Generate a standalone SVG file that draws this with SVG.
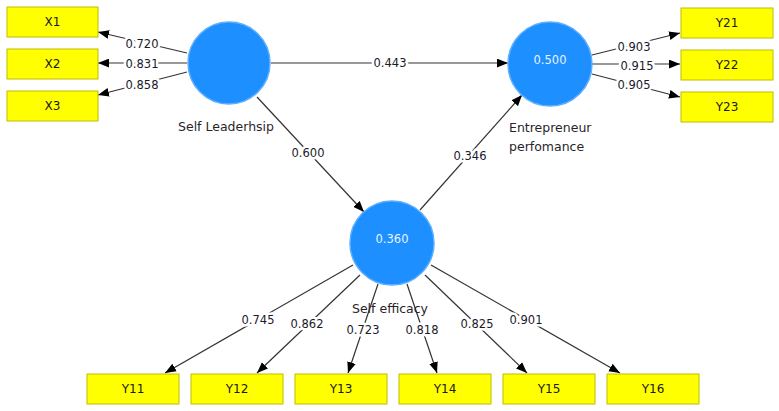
<svg xmlns="http://www.w3.org/2000/svg" width="779" height="411" viewBox="0 0 779 411">
<defs>
<marker id="ah" viewBox="0 0 10 8" refX="10" refY="4" markerWidth="11" markerHeight="9" markerUnits="userSpaceOnUse" orient="auto">
<path d="M0,0 L10,4 L0,8 z" fill="#000"/>
</marker>
</defs>
<style>
.box{fill:#FFFF00;stroke:#BDBD00;stroke-width:1}
.circ{fill:#1E8FFF;stroke:#5CAEFF;stroke-width:1.5}
.bt{font-family:"DejaVu Sans",sans-serif;font-size:12px;fill:#1a1a1a;text-anchor:middle}
.ct{font-family:"DejaVu Sans",sans-serif;font-size:11.5px;fill:#E6F3FF;text-anchor:middle}
.nm{font-family:"DejaVu Sans",sans-serif;font-size:12.5px;fill:#2a1f2a}
.lb{font-family:"DejaVu Sans",sans-serif;font-size:11.5px;fill:#1a1a2a;text-anchor:middle;stroke:#fff;stroke-width:5;paint-order:stroke;stroke-linejoin:round}
.ln{stroke:#333;stroke-width:1.2;fill:none;marker-end:url(#ah)}
</style>
<rect width="779" height="411" fill="#fff"/>
<g id="connectors">
<line class="ln" x1="187" y1="53" x2="98" y2="32"/>
<line class="ln" x1="187" y1="63" x2="98" y2="63"/>
<line class="ln" x1="187" y1="72" x2="98" y2="95"/>
<line class="ln" x1="271" y1="63" x2="508" y2="63"/>
<line class="ln" x1="257" y1="97" x2="364" y2="212"/>
<line class="ln" x1="420" y1="210" x2="522" y2="95"/>
<line class="ln" x1="592" y1="55" x2="680" y2="33"/>
<line class="ln" x1="592" y1="64" x2="680" y2="64"/>
<line class="ln" x1="592" y1="74" x2="680" y2="97"/>
<line class="ln" x1="353" y1="265" x2="165" y2="373"/>
<line class="ln" x1="360" y1="275" x2="257" y2="373"/>
<line class="ln" x1="378" y1="284" x2="348" y2="373"/>
<line class="ln" x1="407" y1="284" x2="437" y2="373"/>
<line class="ln" x1="425" y1="275" x2="527" y2="373"/>
<line class="ln" x1="431" y1="265" x2="620" y2="373"/>
<text class="lb" x="142" y="48">0.720</text>
<text class="lb" x="142" y="68">0.831</text>
<text class="lb" x="142" y="89">0.858</text>
<text class="lb" x="390" y="67">0.443</text>
<text class="lb" x="308" y="157">0.600</text>
<text class="lb" x="470" y="160">0.346</text>
<text class="lb" x="634" y="51">0.903</text>
<text class="lb" x="637" y="70">0.915</text>
<text class="lb" x="634" y="89">0.905</text>
<text class="lb" x="258" y="324">0.745</text>
<text class="lb" x="307" y="328">0.862</text>
<text class="lb" x="363" y="334">0.723</text>
<text class="lb" x="422" y="334">0.818</text>
<text class="lb" x="477" y="328">0.825</text>
<text class="lb" x="526" y="324">0.901</text>
</g>
<g id="X1"><rect class="box" x="7" y="7" width="91" height="30"/><text class="bt" x="52.5" y="26">X1</text></g>
<g id="X2"><rect class="box" x="7" y="49" width="91" height="30"/><text class="bt" x="52.5" y="68">X2</text></g>
<g id="X3"><rect class="box" x="7" y="91" width="91" height="30"/><text class="bt" x="52.5" y="110">X3</text></g>
<g id="Y21"><rect class="box" x="681" y="8" width="92" height="30"/><text class="bt" x="727" y="27">Y21</text></g>
<g id="Y22"><rect class="box" x="681" y="50" width="92" height="30"/><text class="bt" x="727" y="69">Y22</text></g>
<g id="Y23"><rect class="box" x="681" y="92" width="92" height="30"/><text class="bt" x="727" y="111">Y23</text></g>
<g id="Y11"><rect class="box" x="87" y="374" width="92" height="30"/><text class="bt" x="133" y="393">Y11</text></g>
<g id="Y12"><rect class="box" x="191" y="374" width="92" height="30"/><text class="bt" x="237" y="393">Y12</text></g>
<g id="Y13"><rect class="box" x="295" y="374" width="92" height="30"/><text class="bt" x="341" y="393">Y13</text></g>
<g id="Y14"><rect class="box" x="399" y="374" width="92" height="30"/><text class="bt" x="445" y="393">Y14</text></g>
<g id="Y15"><rect class="box" x="503" y="374" width="92" height="30"/><text class="bt" x="549" y="393">Y15</text></g>
<g id="Y16"><rect class="box" x="607" y="374" width="92" height="30"/><text class="bt" x="653" y="393">Y16</text></g>
<g id="SelfLeadership"><circle class="circ" cx="229" cy="63" r="41"/><text class="nm" x="226" y="131" text-anchor="middle">Self Leaderhsip</text></g>
<g id="EntrepreneurPerformance"><circle class="circ" cx="550" cy="64" r="42"/><text class="ct" x="550" y="64">0.500</text><text class="nm" x="509" y="132">Entrepreneur</text><text class="nm" x="509" y="151">perfomance</text></g>
<g id="SelfEfficacy"><circle class="circ" cx="392" cy="243" r="42"/><text class="ct" x="392" y="243">0.360</text><text class="nm" x="390" y="313" text-anchor="middle">Self efficacy</text></g>
</svg>
